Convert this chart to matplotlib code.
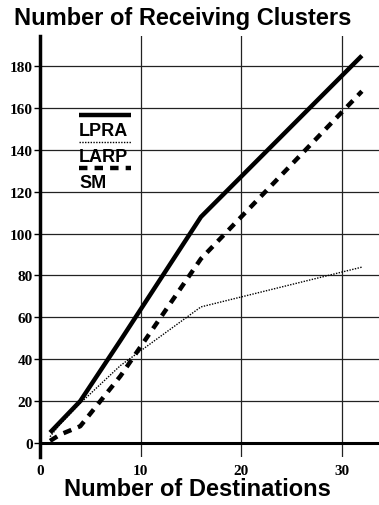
import matplotlib
matplotlib.use("Agg")
import matplotlib.pyplot as plt
from matplotlib.lines import Line2D

destinations = [1, 2, 4, 8, 16, 32]
lpra = [5, 10, 20, 49, 108, 185]
larp = [3, 9, 19, 37, 65, 84]
sm = [1, 4, 8, 32, 88, 168]
xticks = [0, 10, 20, 30]
yticks = [0, 20, 40, 60, 80, 100, 120, 140, 160, 180]

fig = plt.figure(figsize=(3.79, 5.06), dpi=100)
ax = fig.add_axes([40/379, 1 - 458/506, 1 - 40/379, (458 - 37)/506])
ax.set_xlim(0.1, 33.7)
ax.set_ylim(-6.7, 194.4)

for y in yticks[1:]:
    ax.axhline(y, color='#222222', lw=0.9, zorder=1)
for x in xticks[1:]:
    ax.axvline(x, color='#222222', lw=0.9, zorder=1)
ax.axhline(0, color='black', lw=2.2, zorder=2)

dash = (0, (1.9, 1.6))
ax.plot(destinations, lpra, color='black', lw=3.2, solid_capstyle='butt', zorder=3)
ax.plot(destinations, larp, color='black', lw=1.0, ls=(0, (1, 1)), zorder=3)
ax.plot(destinations, sm, color='black', lw=3.2, ls=dash, zorder=3)

for s in ['top', 'right', 'bottom']:
    ax.spines[s].set_visible(False)
ax.spines['left'].set_linewidth(2.5)

ax.set_xticks(xticks)
ax.set_yticks(yticks)
ax.tick_params(axis='x', length=0, pad=5)
ax.tick_params(axis='y', length=4, width=1, pad=1)
for lab in ax.get_xticklabels() + ax.get_yticklabels():
    lab.set_fontfamily('Liberation Serif')
    lab.set_fontweight('bold')
    lab.set_fontsize(11)

fig.text(183/379, 1 - 19/506, 'Number of Receiving Clusters', ha='center', va='center',
         fontsize=17, fontweight='bold', family='Liberation Sans')
fig.text(197/379, 1 - 490/506, 'Number of Destinations', ha='center', va='center',
         fontsize=17, fontweight='bold', family='Liberation Sans')

# legend drawn manually
tr = ax.transAxes
def ax_frac_x(px):
    return (px - 40) / (379 - 40)
def ax_frac_y(py):
    return (458 - py) / (458 - 37)
x0, x1 = ax_frac_x(79), ax_frac_x(131)
entries = [('LPRA', dict(lw=3.2, ls='-'), 116, 132),
           ('LARP', dict(lw=1.0, ls=(0, (1, 1))), 143, 158),
           ('SM', dict(lw=3.2, ls=dash), 169, 184)]
for label, style, ly, ty in entries:
    ax.add_line(Line2D([x0, x1], [ax_frac_y(ly), ax_frac_y(ly)], transform=tr,
                       color='black', solid_capstyle='butt', zorder=4, **style))
    ax.text(x0, ax_frac_y(ty), label, transform=tr, ha='left', va='center',
            fontsize=13, fontweight='bold', family='Liberation Sans', zorder=4)

fig.savefig('out.png', dpi=100)
